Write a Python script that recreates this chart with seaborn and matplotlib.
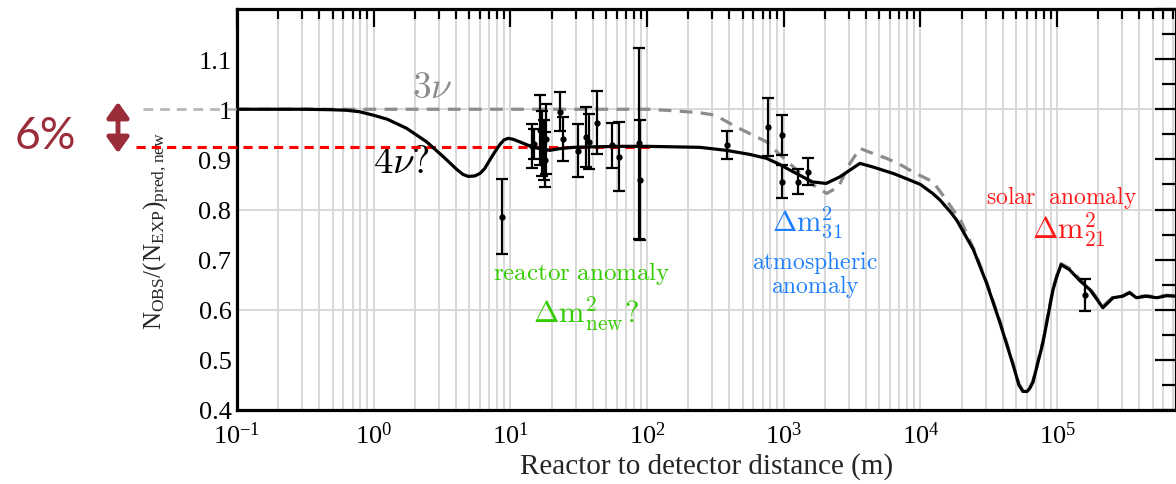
import numpy as np
import pandas as pd
import matplotlib
matplotlib.use("Agg")
import matplotlib.pyplot as plt
from matplotlib.patches import FancyArrowPatch
from matplotlib.ticker import LogLocator, NullFormatter, FixedLocator, MultipleLocator
import seaborn as sns

# ---------------- data ----------------
# 4-neutrino (black, solid) curve: distance (m), N_obs/N_exp
curve4_dist = [0.1, 0.316, 0.5, 0.63, 0.79, 1.0, 1.26, 1.74, 2.44, 3.24, 4.05, 4.5, 4.92,
               5.5, 6.0, 6.5, 7.08, 7.7, 8.4, 9.0, 9.66, 10.5, 11.7, 14.7, 19.5, 22.4, 28.8,
               39.8, 63, 100, 158, 244, 380, 562, 750, 933, 1175, 1622, 2042, 2570, 3606,
               4467, 6310, 8318, 10000, 12300, 13900, 16600, 18400, 24400, 30500, 38200,
               47900, 52500, 56200, 60300, 63000, 66500, 78700, 93300, 100000, 107000,
               123000, 148000, 174000, 200000, 216000, 257000, 302000, 339000, 380000,
               447000, 537000, 631000, 741000]
curve4_ratio = [1.0, 1.0, 0.999, 0.998, 0.995, 0.988, 0.98, 0.962, 0.935, 0.905, 0.880,
                0.870, 0.866, 0.867, 0.872, 0.882, 0.899, 0.915, 0.930, 0.939, 0.942,
                0.940, 0.935, 0.924, 0.918, 0.921, 0.924, 0.925, 0.926, 0.926, 0.925,
                0.924, 0.918, 0.91, 0.902, 0.89, 0.875, 0.855, 0.852, 0.865, 0.892, 0.885,
                0.872, 0.859, 0.85, 0.832, 0.819, 0.795, 0.779, 0.72, 0.653, 0.574, 0.488,
                0.45, 0.437, 0.437, 0.443, 0.455, 0.534, 0.64, 0.668, 0.69, 0.68, 0.657,
                0.64, 0.617, 0.604, 0.624, 0.627, 0.634, 0.624, 0.627, 0.624, 0.628, 0.627]

# 3-neutrino (grey, dashed) curve
curve3_dist = [0.1, 100, 158, 244, 316, 447, 631, 750, 933, 1242, 1585, 2057, 2512, 3020,
               3606, 4467, 5650, 7079, 8810, 12400, 15850, 19950, 25120, 30500, 38200,
               47900, 52500, 56200, 60300, 63000, 66500, 78700, 93300, 100000, 107000,
               123000, 148000, 174000, 200000, 216000, 257000, 302000, 339000, 380000,
               447000, 537000, 631000, 741000]
curve3_ratio = [1.0, 1.0, 0.997, 0.993, 0.988, 0.965, 0.945, 0.935, 0.91, 0.879, 0.852,
                0.832, 0.845, 0.89, 0.922, 0.912, 0.902, 0.89, 0.875, 0.855, 0.815, 0.775,
                0.715, 0.655, 0.577, 0.49, 0.452, 0.439, 0.439, 0.445, 0.458, 0.537, 0.643,
                0.67, 0.692, 0.683, 0.66, 0.642, 0.62, 0.607, 0.626, 0.628, 0.635, 0.626,
                0.628, 0.626, 0.629, 0.628]

# measurements: distance (m), ratio, error
meas_dist = [8.7, 14.3, 15.0, 16.5, 17.0, 17.5, 18.0, 18.3, 23.1, 24.1, 31.4, 36.0, 37.8,
             42.8, 55.0, 62.4, 87.7, 89.5, 382, 762, 966, 966, 1276, 1510, 160000]
meas_ratio = [0.786, 0.926, 0.930, 0.958, 0.932, 0.918, 0.899, 0.940, 0.995, 0.940, 0.917,
              0.945, 0.935, 0.973, 0.928, 0.905, 0.932, 0.859, 0.928, 0.965, 0.948, 0.855,
              0.855, 0.875, 0.630]
meas_err = [0.075, 0.044, 0.030, 0.070, 0.065, 0.060, 0.055, 0.070, 0.039, 0.044, 0.053,
            0.060, 0.055, 0.063, 0.045, 0.069, 0.190, 0.120, 0.028, 0.058, 0.040, 0.033,
            0.025, 0.027, 0.032]

anomaly_level = 0.925
y_ticks = [0.4, 0.5, 0.6, 0.7, 0.8, 0.9, 1.0, 1.1, 1.2]
y_tick_labels = ["0.4", "0.5", "0.6", "0.7", "0.8", "0.9", "1", "1.1", ""]
x_ticks = [1e-1, 1e0, 1e1, 1e2, 1e3, 1e4, 1e5]
x_tick_labels = [r"$\mathregular{10^{-1}}$", r"$\mathregular{10^{0}}$", r"$\mathregular{10^{1}}$",
                 r"$\mathregular{10^{2}}$", r"$\mathregular{10^{3}}$", r"$\mathregular{10^{4}}$",
                 r"$\mathregular{10^{5}}$"]

# ---------------- styling ----------------
sns.set_theme(style="white")
plt.rcParams["font.family"] = ["Liberation Serif", "DejaVu Serif"]
plt.rcParams["mathtext.fontset"] = "cm"

W, H = 1176, 485
fig = plt.figure(figsize=(W / 100, H / 100), dpi=100)
ax = fig.add_axes([237 / W, 1 - 411 / H, (W - 237) / W, (411 - 10) / H])
ax.set_xscale("log")
ax.set_xlim(0.1, 7.41e5)
ax.set_ylim(0.4, 1.2)

grid_c = "#d6d6d6"
ax.xaxis.set_major_locator(FixedLocator(x_ticks))
ax.xaxis.set_minor_locator(LogLocator(base=10, subs=np.arange(2, 10), numticks=50))
ax.xaxis.set_minor_formatter(NullFormatter())
ax.set_xticklabels(x_tick_labels)
ax.grid(True, axis="x", which="both", color=grid_c, lw=1.3, zorder=0)
ax.yaxis.set_major_locator(FixedLocator(y_ticks))
ax.yaxis.set_minor_locator(MultipleLocator(0.05))
ax.set_yticklabels(y_tick_labels)
for gy in y_ticks[2:-1:2]:
    ax.axhline(gy, color=grid_c, lw=1.3, zorder=0)
ax.set_axisbelow(True)

ax.tick_params(axis="both", which="both", direction="in", top=True, right=True,
               colors="black", labelsize=19, width=1.6)
ax.tick_params(axis="x", which="major", length=13, pad=8)
ax.tick_params(axis="x", which="minor", length=7)
ax.tick_params(axis="y", which="major", length=15, pad=4)
ax.tick_params(axis="y", which="minor", length=10)
for s in ax.spines.values():
    s.set_color("black")
    s.set_linewidth(2.3)

# ---------------- curves ----------------
df3 = pd.DataFrame({"d": curve3_dist, "r": curve3_ratio})
df4 = pd.DataFrame({"d": curve4_dist, "r": curve4_ratio})
sns.lineplot(data=df3, x="d", y="r", ax=ax, color="#8c8c8c", lw=2.3, sort=False,
             estimator=None, zorder=3).lines[-1].set_dashes([4, 2.6])
# grey dashed continuation outside the axes (left margin)
ax.plot([0.0205, 0.1], [curve3_ratio[0]] * 2, color="#b8b8b8", lw=2.0, dashes=[3.5, 2.5],
        clip_on=False, zorder=3)
# red dashed anomaly level
ax.plot([0.0182, 105], [anomaly_level] * 2, color="#ff0000", lw=2.2, dashes=[3, 2],
        clip_on=False, zorder=4)
sns.lineplot(data=df4, x="d", y="r", ax=ax, color="black", lw=2.3, sort=False,
             estimator=None, zorder=5)

# ---------------- measurements ----------------
ax.errorbar(meas_dist, meas_ratio, yerr=meas_err, fmt="o", color="black", ms=3.5,
            elinewidth=1.6, capsize=4.5, capthick=1.6, zorder=6)
ax.set_xlabel("Reactor to detector distance (m)", fontsize=21, labelpad=3)
ax.set_ylabel(r"$\mathregular{N_{OBS}/(N_{EXP})_{pred,new}}$", fontsize=18, labelpad=6)
ax.yaxis.set_label_coords(-(237 - 172) / (W - 237), 0.45)

# ---------------- annotations ----------------
ax.text(2.67, 1.042, r"$3\nu$", color="#8c8c8c", fontsize=27, ha="center", va="center")
ax.text(1.6, 0.893, r"$4\nu?$", color="black", fontsize=28, ha="center", va="center")
green = "#33cc00"
ax.text(33.4, 0.674, r"$\mathrm{reactor\ anomaly}$", color=green, fontsize=18,
        ha="center", va="center")
ax.text(14.6, 0.575, r"$\Delta\mathrm{m}^2_{\mathrm{new}}?$", color=green, fontsize=22,
        ha="left", va="baseline")
blue = "#1f80ff"
ax.text(820, 0.760, r"$\Delta\mathrm{m}^2_{31}$", color=blue, fontsize=21, ha="left",
        va="baseline")
ax.text(1690, 0.684, r"$\mathrm{atmospheric}$", color=blue, fontsize=17, ha="center",
        va="baseline")
ax.text(1690, 0.635, r"$\mathrm{anomaly}$", color=blue, fontsize=17, ha="center",
        va="baseline")
red = "#ff1a1a"
ax.text(10 ** 5.035, 0.813, r"$\mathrm{solar\ \ anomaly}$", color=red, fontsize=17,
        ha="center", va="baseline")
ax.text(10 ** 4.816, 0.744, r"$\Delta\mathrm{m}^2_{21}$", color=red, fontsize=22,
        ha="left", va="baseline")

# left-margin "6%" annotation
dark_red = "#9b2d3a"
fig.text(15 / W, 1 - 149 / H, "6%", color=dark_red, fontsize=32, family=["Lato", "DejaVu Sans"],
         ha="left", va="baseline")
fig.add_artist(FancyArrowPatch(
    (118 / W, 1 - 154 / H), (118 / W, 1 - 103 / H), transform=fig.transFigure,
    arrowstyle="<|-|>,head_length=0.42,head_width=0.3", color=dark_red, lw=3.5,
    mutation_scale=22, shrinkA=0, shrinkB=0))

fig.savefig("out.png", dpi=100)
